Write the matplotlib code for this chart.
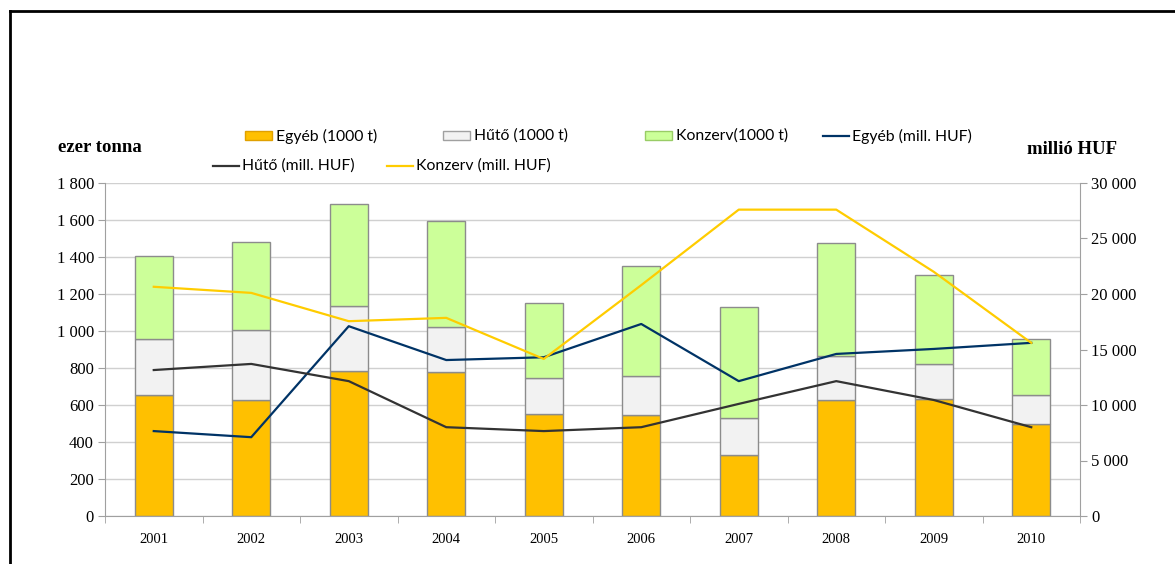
import matplotlib.pyplot as plt
import numpy as np
from matplotlib.patches import Rectangle
from matplotlib.lines import Line2D

years = ['2001', '2002', '2003', '2004', '2005', '2006', '2007', '2008', '2009', '2010']

# ezer tonna (stacked)
egyeb_t = [655, 625, 785, 780, 550, 545, 330, 625, 635, 500]
huto_t = [300, 380, 350, 240, 195, 210, 200, 240, 185, 155]
konzerv_t = [450, 475, 550, 575, 405, 595, 600, 610, 480, 300]

# millió HUF
egyeb_huf = [7650, 7100, 17100, 14050, 14300, 17300, 12150, 14600, 15050, 15600]
huto_huf = [13150, 13700, 12150, 8000, 7650, 8000, 10100, 12150, 10450, 8000]
konzerv_huf = [20650, 20100, 17550, 17850, 14150, 20800, 27600, 27600, 22000, 15600]

serif = 'Liberation Serif'
sans = 'Lato'

fig = plt.figure(figsize=(11.75, 5.64), dpi=100)
W, H = 1175, 564
ax = fig.add_axes([105 / W, 1 - 516 / H, (1080 - 105) / W, (516 - 183) / H])

x = np.arange(len(years))
bw = 0.39
edge = '#8c8c8c'
c_eg, c_hu, c_ko = '#ffc000', '#f2f2f2', '#ccff99'
ax.bar(x, egyeb_t, bw, color=c_eg, edgecolor=edge, linewidth=1, zorder=2)
b1 = np.array(egyeb_t)
ax.bar(x, huto_t, bw, bottom=b1, color=c_hu, edgecolor=edge, linewidth=1, zorder=2)
b2 = b1 + np.array(huto_t)
ax.bar(x, konzerv_t, bw, bottom=b2, color=c_ko, edgecolor=edge, linewidth=1, zorder=2)

ax.set_xlim(-0.5, len(years) - 0.5)
ax.set_ylim(0, 1800)
ax.set_yticks(range(0, 1801, 200))
ax.set_yticklabels([f'{v:,}'.replace(',', ' ') for v in range(0, 1801, 200)],
                   fontfamily=serif, fontsize=12)
ax.set_xticks(x)
ax.set_xticklabels(years, fontfamily=serif, fontsize=10.5)
ax.set_xticks(np.arange(-0.5, len(years)), minor=True)
ax.tick_params(axis='x', which='major', length=0, pad=12)
ax.tick_params(axis='x', which='minor', length=5, color='#a0a0a0')
ax.tick_params(axis='y', length=5, color='#a0a0a0', pad=3)
ax.grid(axis='y', color='#d0d0d0', linewidth=1, zorder=0)
for s in ['top', 'right']:
    ax.spines[s].set_visible(False)
for s in ['left', 'bottom']:
    ax.spines[s].set_color('#a0a0a0')

ax2 = ax.twinx()
ax2.plot(x, egyeb_huf, color='#003366', linewidth=1.6, zorder=3)
ax2.plot(x, huto_huf, color='#333333', linewidth=1.6, zorder=3)
ax2.plot(x, konzerv_huf, color='#ffcc00', linewidth=1.6, zorder=3)
ax2.set_ylim(0, 30000)
ax2.set_yticks(range(0, 30001, 5000))
ax2.set_yticklabels([f'{v:,}'.replace(',', ' ') for v in range(0, 30001, 5000)],
                    fontfamily=serif, fontsize=12)
ax2.tick_params(axis='y', length=5, color='#a0a0a0', pad=3)
for s in ['top', 'left', 'bottom']:
    ax2.spines[s].set_visible(False)
ax2.spines['right'].set_color('#a0a0a0')

fig.text(58 / W, 1 - 147 / H, 'ezer tonna', fontfamily=serif, fontweight='bold',
         fontsize=13.5, va='center', ha='left')
fig.text(1027 / W, 1 - 149 / H, 'millió HUF', fontfamily=serif, fontweight='bold',
         fontsize=13.5, va='center', ha='left')

# legend
patch_items = [(245, 136, c_eg, '#e0a000', 'Egyéb (1000 t)'),
               (443, 136, c_hu, '#a0a0a0', 'Hűtő (1000 t)'),
               (645, 136, c_ko, '#99cc66', 'Konzerv(1000 t)')]
for px, py, fc, ec, lab in patch_items:
    fig.patches.append(Rectangle((px / W, 1 - (py + 4) / H), 27 / W, 9 / H,
                                 transform=fig.transFigure, facecolor=fc,
                                 edgecolor=ec, linewidth=1))
    fig.text((px + 31) / W, 1 - py / H, lab, fontfamily=sans, fontsize=11.3,
             va='center', ha='left')
line_items = [(823, 136, '#003366', 'Egyéb (mill. HUF)'),
              (213, 166, '#333333', 'Hűtő (mill. HUF)'),
              (387, 166, '#ffcc00', 'Konzerv (mill. HUF)')]
for px, py, c, lab in line_items:
    fig.lines.append(Line2D([px / W, (px + 26) / W], [1 - py / H, 1 - py / H],
                            transform=fig.transFigure, color=c, linewidth=1.6))
    fig.text((px + 29) / W, 1 - py / H, lab, fontfamily=sans, fontsize=11.3,
             va='center', ha='left')

# outer frame (top and left)
fig.lines.append(Line2D([10 / W, 1], [1 - 11 / H, 1 - 11 / H],
                        transform=fig.transFigure, color='black', linewidth=2))
fig.lines.append(Line2D([10 / W, 10 / W], [0, 1 - 11 / H],
                        transform=fig.transFigure, color='black', linewidth=2))

fig.savefig('out.png', dpi=100)
